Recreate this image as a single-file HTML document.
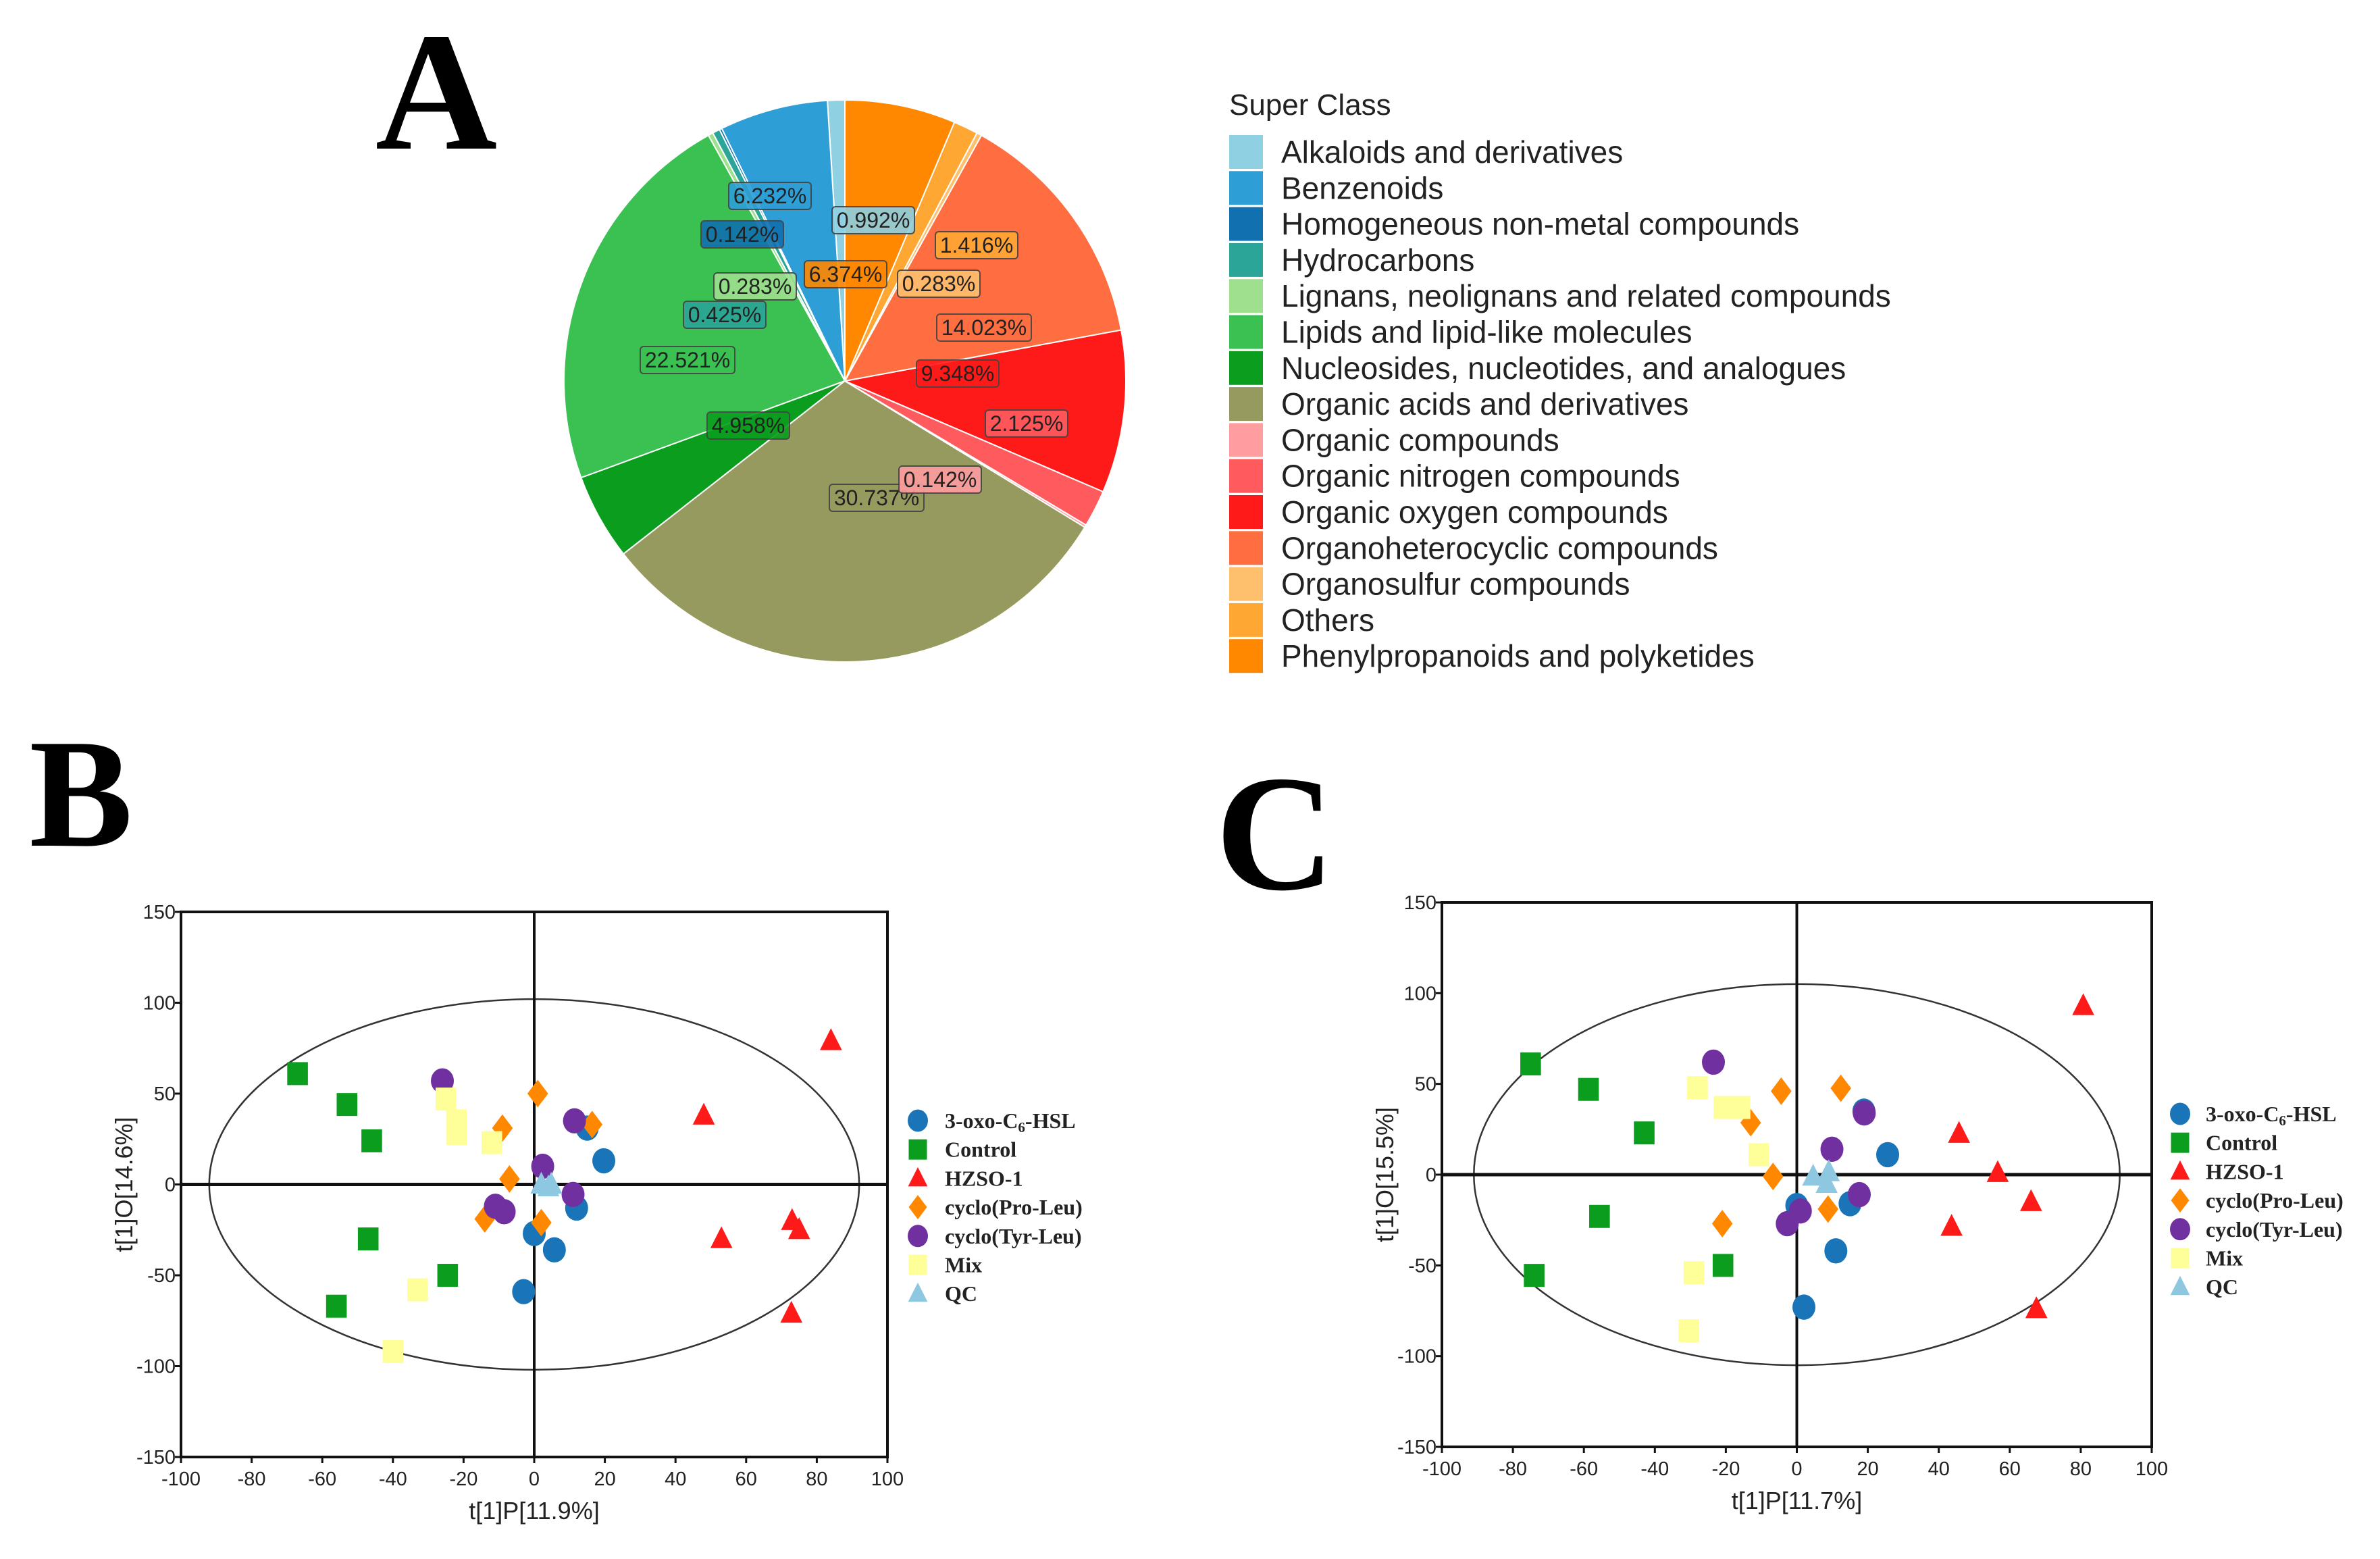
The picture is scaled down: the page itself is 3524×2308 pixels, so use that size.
<!DOCTYPE html>
<html><head><meta charset="utf-8"><style>
html,body{margin:0;padding:0;background:#fff;}
svg{display:block;}
</style></head><body>
<svg id="fig" width="3524" height="2308" viewBox="0 0 3524 2308" xmlns="http://www.w3.org/2000/svg">
<rect x="0" y="0" width="3524" height="2308" fill="#fff"/>
<text x="646" y="220" text-anchor="middle" font-family="Liberation Serif, serif" font-weight="bold" font-size="250">A</text>
<text x="120" y="1252" text-anchor="middle" font-family="Liberation Serif, serif" font-weight="bold" font-size="230">B</text>
<text x="1888" y="1316" text-anchor="middle" font-family="Liberation Serif, serif" font-weight="bold" font-size="245">C</text>
<g id="pie"></g>
<g id="pieLegend"></g>
<g id="chartB"></g>
<g id="chartC"></g>
</svg>
<script>
const NS='http://www.w3.org/2000/svg';
function mk(tag,attrs,parent){const e=document.createElementNS(NS,tag);for(const k in attrs)e.setAttribute(k,attrs[k]);if(parent)parent.appendChild(e);return e;}

// ---- Pie data ----
const pieClasses=["Alkaloids and derivatives","Benzenoids","Homogeneous non-metal compounds","Hydrocarbons","Lignans, neolignans and related compounds","Lipids and lipid-like molecules","Nucleosides, nucleotides, and analogues","Organic acids and derivatives","Organic compounds","Organic nitrogen compounds","Organic oxygen compounds","Organoheterocyclic compounds","Organosulfur compounds","Others","Phenylpropanoids and polyketides"];
const pieValues=[0.992,6.232,0.142,0.425,0.283,22.521,4.958,30.737,0.142,2.125,9.348,14.023,0.283,1.416,6.374];
const pieColors=["#8fd0e3","#2e9fd6","#1170b0","#2aa598","#9ee08d","#3bc152","#0b9e1e","#979a5e","#ff9da0","#ff5b5f","#ff1a1a","#ff6e40","#ffc06e","#ffa733","#ff8800"];
const pieLabelPos=[[1290,322],[1136,345],[1093,463],[1113,420],[1112,420],[1013,530],[1102,626],[1293,733],[1387,706],[1517,624],[1414,551],[1452,483],[1385,418],[1441,361],[1250,404]];

const pie=document.getElementById('pie');
const cx=1251,cy=564,R=416;
let tot=pieValues.reduce((a,b)=>a+b,0);
let ang=0;
pieValues.forEach((v,i)=>{
  const a0=ang, a1=ang+v/tot*360; ang=a1;
  const p=a=>[cx-R*Math.sin(a*Math.PI/180), cy-R*Math.cos(a*Math.PI/180)];
  const s=p(a0), e=p(a1);
  const large=(a1-a0)>180?1:0;
  const path=mk('path',{d:`M${cx},${cy} L${s[0]},${s[1]} A${R},${R} 0 ${large} 0 ${e[0]},${e[1]} Z`,fill:pieColors[i],stroke:'#fff','stroke-width':2},pie);
  
  
});
const labelOrder=[0,1,2,3,4,5,6,7,8,9,10,11,12,13,14];
const fixedPos=[[1293,326],[1140,290],[1099,347],[1073,466],[1118,424],[1018,533],[1108,630],[1298,737],[1392,710],[1520,627],[1418,553],[1457,485],[1390,420],[1446,363],[1252,406]];
pieValues.forEach((v,i)=>{
  const [lx,ly]=fixedPos[i];
  const txt=v.toFixed(3)+'%';
  const w=txt.length*18+14;
  const g=mk('g',{},pie);
  
  
  mk('rect',{x:lx-w/2,y:ly-20,width:w,height:40,rx:5,fill:pieColors[i],stroke:'#444','stroke-width':2,opacity:0.9},g);
  const t=mk('text',{x:lx,y:ly+11,'text-anchor':'middle','font-family':'Liberation Sans, sans-serif','font-size':32,fill:'#222'},g);
  t.textContent=txt;
});

// legend
const leg=document.getElementById('pieLegend');
const lt=mk('text',{x:1820,y:170,'font-family':'Liberation Sans, sans-serif','font-size':44,fill:'#222'},leg);
lt.textContent='Super Class';


pieClasses.forEach((c,i)=>{
  const y=225+i*53.3;
  const g=mk('g',{},leg);
  
  
  mk('rect',{x:1820,y:y-25,width:50,height:50,fill:pieColors[i]},g);
  const t=mk('text',{x:1897,y:y+16,'font-family':'Liberation Sans, sans-serif','font-size':46,fill:'#222'},g);
  t.textContent=c;
});

// ---- Scatter data ----
const groups=["3-oxo-C6-HSL","Control","HZSO-1","cyclo(Pro-Leu)","cyclo(Tyr-Leu)","Mix","QC"];
const groupColors=["#1a74b8","#0b9e1e","#ff1a1a","#ff8800","#7030a0","#ffff99","#8ec8e0"];
const groupShapes=["circle","square","triangle","diamond","circle","square","triangle"];
const xTicks=[-100,-80,-60,-40,-20,0,20,40,60,80,100];
const yTicks=[-150,-100,-50,0,50,100,150];

const bX=[[15,19.7,12,0,5.7,-3],[-67,-53,-46,-47,-24.5,-56],[84,48,53,73,75,72.8],[1,-9,16.4,-7,-14,2],[-26,11.4,2.4,11,-11,-8.5],[-25,-22,-22,-12,-33,-40],[2,4.8,4]];
const bY=[[31,13,-13,-27,-36,-59],[61,44,24,-30,-50,-67],[79,38,-30,-20,-25,-71],[50,31,33,3,-19,-21],[57,35,10,-5.5,-12,-15],[47,35,28,23,-58,-92],[0,0,-1.5]];
const cX=[[18.9,25.6,15,0,11,2],[-75,-58.7,-43,-55.6,-20.8,-74],[80.7,45.7,56.6,66,43.6,67.5],[-4.4,12.4,-13,-6.7,8.8,-21],[-23.5,19,9.9,17.6,1,-2.7],[-28,-20.5,-16,-10.7,-29,-30.4],[4.6,9,8.4]];
const cY=[[35,11,-16,-17,-42,-73],[61,47,23,-23,-50,-55.5],[93,22.6,1,-15,-28.6,-74],[46,47.6,28.6,-1,-19,-27],[62,34,14,-11,-20,-27],[48,37,37,11,-54,-86],[-1,1.5,-5]];

function drawScatter(gid,box,xs,ys,ell,xTitle,yTitle,legX,legTextX,legY){
  const G=document.getElementById(gid);
  const [L,T,Rr,B]=box;
  const sx=v=>L+(v+100)/200*(Rr-L);
  const sy=v=>B-(v+150)/300*(B-T);
  const font='Liberation Sans, sans-serif';
  mk('rect',{x:L,y:T,width:Rr-L,height:B-T,fill:'none',stroke:'#111','stroke-width':4},G);
  const el=mk('ellipse',{cx:sx(0),cy:sy(0),rx:sx(ell[0])-sx(0),ry:sy(0)-sy(ell[1]),fill:'none',stroke:'#333','stroke-width':2.5},G);
  
  
  mk('line',{x1:sx(0),y1:T,x2:sx(0),y2:B,stroke:'#111','stroke-width':4},G);
  mk('line',{x1:L,y1:sy(0),x2:Rr,y2:sy(0),stroke:'#111','stroke-width':5},G);
  xTicks.forEach(v=>{
    mk('line',{x1:sx(v),y1:B,x2:sx(v),y2:B+9,stroke:'#111','stroke-width':3},G);
    const t=mk('text',{x:sx(v),y:B+42,'text-anchor':'middle','font-family':font,'font-size':29,fill:'#222'},G);
    t.textContent=v;
    
    
  });
  yTicks.forEach(v=>{
    mk('line',{x1:L-9,y1:sy(v),x2:L,y2:sy(v),stroke:'#111','stroke-width':3},G);
    const t=mk('text',{x:L-8,y:sy(v)+10,'text-anchor':'end','font-family':font,'font-size':29,fill:'#222'},G);
    t.textContent=v;
    
    
  });
  const xt=mk('text',{x:(L+Rr)/2,y:B+92,'text-anchor':'middle','font-family':font,'font-size':36,fill:'#222'},G);
  xt.textContent=xTitle;
  
  
  const yx=L-72, yy=(T+B)/2;
  const yt=mk('text',{x:yx,y:yy,'text-anchor':'middle','font-family':font,'font-size':36,fill:'#222',transform:`rotate(-90 ${yx} ${yy})`},G);
  yt.textContent=yTitle;
  
  
  function marker(shape,x,y,col,parent,s){
    if(shape==='circle') return mk('ellipse',{cx:x,cy:y,rx:s*0.5,ry:s*0.55,fill:col},parent);
    if(shape==='square') return mk('rect',{x:x-s*0.45,y:y-s*0.5,width:s*0.9,height:s,fill:col},parent);
    if(shape==='triangle') return mk('polygon',{points:`${x},${y-s*0.55} ${x+s*0.48},${y+s*0.4} ${x-s*0.48},${y+s*0.4}`,fill:col},parent);
    return mk('polygon',{points:`${x},${y-s*0.6} ${x+s*0.45},${y} ${x},${y+s*0.6} ${x-s*0.45},${y}`,fill:col},parent);
  }
  groups.forEach((g,gi)=>{
    xs[gi].forEach((v,j)=>{
      const m=marker(groupShapes[gi],sx(v),sy(ys[gi][j]),groupColors[gi],G,34);
      
      
    });
  });
  groups.forEach((g,gi)=>{
    const y=legY+gi*42.7;
    const lg=mk('g',{},G);
    
    
    marker(groupShapes[gi],legX,y,groupColors[gi],lg,30);
    const t=mk('text',{x:legTextX,y:y+11,'font-family':'Liberation Serif, serif','font-weight':'bold','font-size':32,fill:'#222'},lg);
    if(gi===0){t.textContent='3-oxo-C';const s=mk('tspan',{'font-size':21,dy:6},t);s.textContent='6';const s2=mk('tspan',{dy:-6},t);s2.textContent='-HSL';}
    else t.textContent=g;
  });
}
drawScatter('chartB',[268,1350,1314,2157],bX,bY,[92,102],'t[1]P[11.9%]','t[1]O[14.6%]',1359,1399,1659);
drawScatter('chartC',[2135,1336,3186,2142],cX,cY,[91,105],'t[1]P[11.7%]','t[1]O[15.5%]',3228,3266,1649);
</script>
</body></html>
